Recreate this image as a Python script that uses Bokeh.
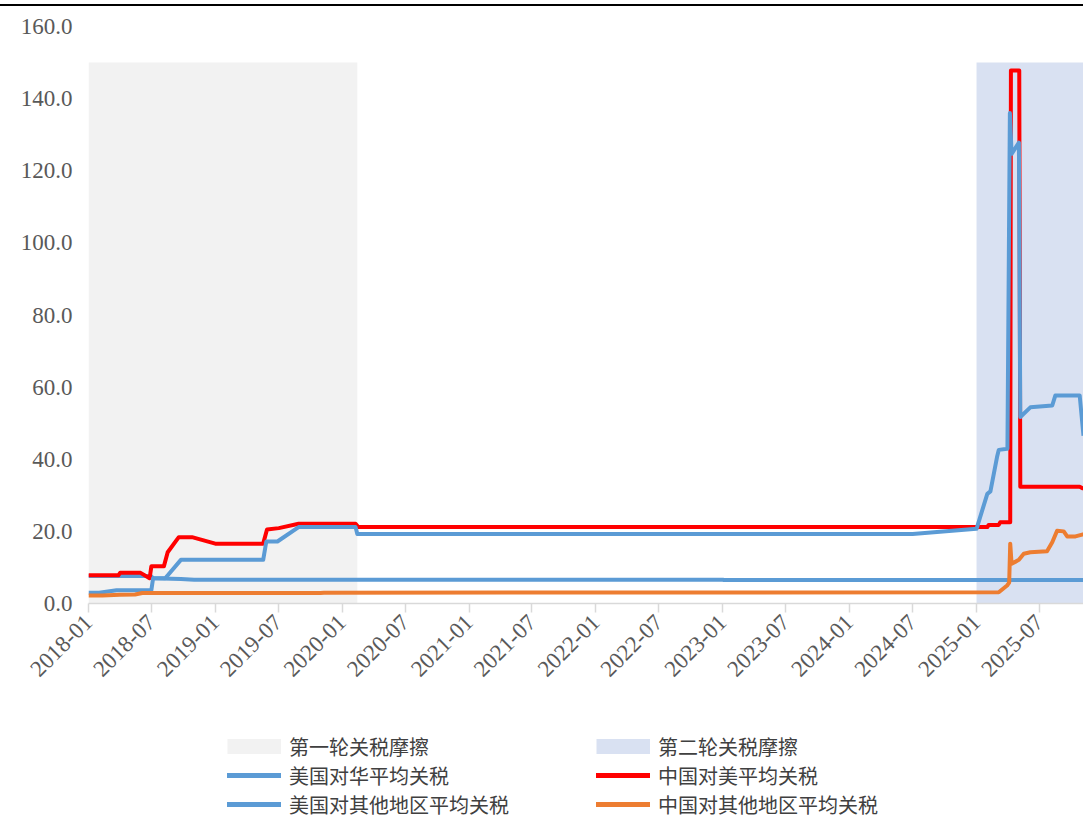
import pandas as pd
from bokeh.plotting import figure
from bokeh.models import (Range1d, FixedTicker, DatetimeTickFormatter, NumeralTickFormatter,
                          Legend, LegendItem, Div, ColumnDataSource)
from bokeh.layouts import column
from bokeh.embed import file_html
from bokeh.resources import INLINE

# ---------------- data ----------------
x_tick_labels = ["2018-01", "2018-07", "2019-01", "2019-07", "2020-01", "2020-07", "2021-01", "2021-07",
                 "2022-01", "2022-07", "2023-01", "2023-07", "2024-01", "2024-07", "2025-01", "2025-07"]
y_ticks = [0, 20, 40, 60, 80, 100, 120, 140, 160]

period_names = ["第一轮关税摩擦", "第二轮关税摩擦"]
period_start = ["2018-01-01", "2025-01-01"]
period_end = ["2020-02-14", "2025-12-31"]
period_top = [150, 150]

us_china_dates = ["2018-01-01", "2018-02-01", "2018-03-23", "2018-07-01", "2018-07-06", "2018-08-10",
                  "2018-09-24", "2019-05-19", "2019-05-28", "2019-06-29", "2019-08-29", "2020-02-09",
                  "2020-02-14", "2024-07-01", "2025-01-01", "2025-02-01", "2025-02-10", "2025-03-01",
                  "2025-03-06", "2025-03-31", "2025-04-07", "2025-04-12", "2025-05-03", "2025-05-07",
                  "2025-06-05", "2025-08-07", "2025-08-16", "2025-10-25", "2025-11-05"]
us_china_vals = [3.0, 3.0, 3.7, 3.7, 7.0, 7.0,
                 12.1, 12.1, 17.2, 17.2, 21.2, 21.2,
                 19.3, 19.3, 20.7, 30.4, 31.1, 40.6,
                 42.6, 42.9, 136.0, 124.7, 127.8, 51.7,
                 54.4, 54.9, 57.7, 57.7, 46.5]

china_us_dates = ["2018-01-01", "2018-03-28", "2018-04-02", "2018-05-31", "2018-06-26", "2018-07-01",
                  "2018-08-06", "2018-08-17", "2018-09-18", "2018-10-26", "2019-01-01", "2019-05-19",
                  "2019-05-30", "2019-07-03", "2019-08-29", "2020-02-09", "2020-02-17", "2025-02-01",
                  "2025-02-05", "2025-03-06", "2025-03-10", "2025-04-08", "2025-04-10", "2025-05-04",
                  "2025-05-07", "2025-10-25", "2025-11-05"]
china_us_vals = [7.8, 7.8, 8.5, 8.5, 7.0, 10.3,
                 10.3, 14.2, 18.4, 18.4, 16.6, 16.6,
                 20.5, 20.9, 22.1, 22.1, 21.2, 21.2,
                 21.8, 21.8, 22.5, 22.5, 147.8, 147.8,
                 32.4, 32.4, 31.8]

us_other_dates = ["2018-01-01", "2018-06-30", "2018-07-06", "2018-09-24", "2018-11-01", "2023-01-01",
                  "2023-01-05", "2025-11-05"]
us_other_vals = [7.6, 7.6, 7.0, 6.8, 6.6, 6.6, 6.5, 6.5]

china_other_dates = ["2018-01-01", "2018-02-10", "2018-04-01", "2018-05-15", "2018-06-05", "2019-10-31",
                     "2019-11-10", "2025-03-06", "2025-03-30", "2025-04-05", "2025-04-08", "2025-04-12",
                     "2025-05-03", "2025-05-17", "2025-06-05", "2025-07-23", "2025-08-07", "2025-08-21",
                     "2025-09-09", "2025-09-19", "2025-10-13", "2025-11-01", "2025-11-05"]
china_other_vals = [2.2, 2.2, 2.4, 2.5, 2.9, 2.9,
                    3.0, 3.1, 5.0, 5.8, 16.6, 11.0,
                    12.1, 13.8, 14.2, 14.5, 17.0, 20.2,
                    20.0, 18.6, 18.6, 19.1, 19.1]

series_names = ["美国对华平均关税", "中国对美平均关税", "美国对其他地区平均关税", "中国对其他地区平均关税"]

# ---------------- styles ----------------
FONT_NUM = "Liberation Serif"
FONT_CJK = "Noto Sans CJK SC"
GRAY_TXT = "#595959"
BLUE = "#5b9bd5"
RED = "#ff0000"
ORANGE = "#ed7d31"
P1_FILL = "#f2f2f2"
P2_FILL = "#d9e1f2"
LW = 4
W = 1083

# ---------------- main figure ----------------
p = figure(width=W, height=693, x_axis_type="datetime", output_backend="svg", toolbar_location=None,
           x_range=Range1d(pd.Timestamp("2018-01-01"), pd.Timestamp("2025-11-05")),
           y_range=Range1d(0, 160),
           min_border_left=88, min_border_right=0, min_border_top=19, min_border_bottom=97)
p.outline_line_color = None
p.xgrid.grid_line_color = None
p.ygrid.grid_line_color = None
p.background_fill_color = "white"
p.border_fill_color = "white"

src_p1 = ColumnDataSource(dict(left=[pd.Timestamp(period_start[0])], right=[pd.Timestamp(period_end[0])],
                               top=[period_top[0]], bottom=[0]))
src_p2 = ColumnDataSource(dict(left=[pd.Timestamp(period_start[1])], right=[pd.Timestamp(period_end[1])],
                               top=[period_top[1]], bottom=[0]))
p.quad(left="left", right="right", top="top", bottom="bottom", source=src_p1, fill_color=P1_FILL, line_color=None)
p.quad(left="left", right="right", top="top", bottom="bottom", source=src_p2, fill_color=P2_FILL, line_color=None)

p.line(pd.to_datetime(us_other_dates), us_other_vals, line_color=BLUE, line_width=LW, line_join="round")
p.line(pd.to_datetime(china_us_dates), china_us_vals, line_color=RED, line_width=LW, line_join="round")
p.line(pd.to_datetime(us_china_dates), us_china_vals, line_color=BLUE, line_width=LW, line_join="round")
p.line(pd.to_datetime(china_other_dates), china_other_vals, line_color=ORANGE, line_width=LW, line_join="round")

tick_ms = [pd.Timestamp(t + "-01").value // 10**6 for t in x_tick_labels]
p.xaxis.ticker = FixedTicker(ticks=tick_ms)
fmt = "%Y-%m"
p.xaxis.formatter = DatetimeTickFormatter(microseconds=fmt, milliseconds=fmt, seconds=fmt, minsec=fmt,
                                          minutes=fmt, hourmin=fmt, hours=fmt, days=fmt, months=fmt, years=fmt)
p.xaxis.major_label_orientation = 0.785398
p.xaxis.major_label_text_font = FONT_NUM
p.xaxis.major_label_text_font_size = "23px"
p.xaxis.major_label_text_color = GRAY_TXT
p.xaxis.axis_line_color = "#d9d9d9"
p.xaxis.axis_line_width = 1.5
p.xaxis.major_tick_line_color = "#d9d9d9"
p.xaxis.major_tick_line_width = 1.5
p.xaxis.major_tick_out = 9
p.xaxis.major_tick_in = 0
p.xaxis.minor_tick_line_color = None
p.xaxis.major_label_standoff = 6

p.yaxis.ticker = FixedTicker(ticks=y_ticks)
p.yaxis.formatter = NumeralTickFormatter(format="0.0")
p.yaxis.axis_line_color = None
p.yaxis.major_tick_line_color = None
p.yaxis.minor_tick_line_color = None
p.yaxis.major_label_text_font = FONT_NUM
p.yaxis.major_label_text_font_size = "23px"
p.yaxis.major_label_text_color = GRAY_TXT
p.yaxis.major_label_standoff = 10

# ---------------- legend figure ----------------
pl = figure(width=W, height=119, output_backend="svg", toolbar_location=None,
            x_range=Range1d(0, 1), y_range=Range1d(0, 1),
            x_axis_location=None, y_axis_location=None, min_border=0)
pl.outline_line_color = None
pl.xgrid.grid_line_color = None
pl.ygrid.grid_line_color = None

nan = float("nan")
# legend-only glyphs (no visible data)
g_p1 = pl.line([nan], [nan], line_color=P1_FILL, line_width=15, line_cap="butt")
g_p2 = pl.line([nan], [nan], line_color=P2_FILL, line_width=15, line_cap="butt")
g_uc = pl.line([nan], [nan], line_color=BLUE, line_width=5, line_cap="round")
g_cu = pl.line([nan], [nan], line_color=RED, line_width=5, line_cap="round")
g_uo = pl.line([nan], [nan], line_color=BLUE, line_width=5, line_cap="round")
g_co = pl.line([nan], [nan], line_color=ORANGE, line_width=5, line_cap="round")

H = 36


def make_legend(label, renderer, loc):
    lg = Legend(items=[LegendItem(label=label, renderers=[renderer])], location=loc, orientation="vertical")
    lg.border_line_color = None
    lg.background_fill_alpha = 0
    lg.padding = 0
    lg.margin = 0
    lg.spacing = 0
    lg.glyph_width = 54
    lg.glyph_height = H
    lg.label_height = H
    lg.label_standoff = 8
    lg.label_text_font = FONT_CJK
    lg.label_text_font_size = "20px"
    lg.label_text_color = "#404040"
    lg.label_text_baseline = "middle"
    return lg


row_bottoms = [55, 26, -3]
col_x = [139, 508]
pl.add_layout(make_legend(period_names[0], g_p1, (col_x[0], row_bottoms[0])))
pl.add_layout(make_legend(period_names[1], g_p2, (col_x[1], row_bottoms[0])))
pl.add_layout(make_legend(series_names[0], g_uc, (col_x[0], row_bottoms[1])))
pl.add_layout(make_legend(series_names[1], g_cu, (col_x[1], row_bottoms[1])))
pl.add_layout(make_legend(series_names[2], g_uo, (col_x[0], row_bottoms[2])))
pl.add_layout(make_legend(series_names[3], g_co, (col_x[1], row_bottoms[2])))

top_rule = Div(text="", width=W, height=2, margin=(4, 0, 1, 0),
               styles={"background-color": "#000000"})

layout = column(top_rule, p, pl, spacing=0)
open("out.html", "w").write(file_html(layout, INLINE))
